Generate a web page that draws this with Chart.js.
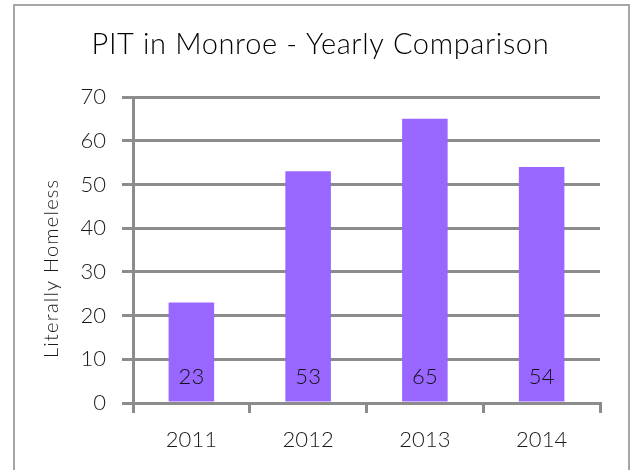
<!DOCTYPE html>
<html>
<head>
<meta charset="utf-8">
<script src="https://cdn.jsdelivr.net/npm/chart.js@4"></script>
<style>
  html, body { margin: 0; padding: 0; background: #fff; }
  #wrap { width: 631px; height: 470px; }
</style>
</head>
<body>
<div id="wrap"><canvas id="myChart" width="631" height="470"></canvas></div>
<script>
const years = ['2011', '2012', '2013', '2014']
const homeless = [23, 53, 65, 54]
const yTicks = [0, 10, 20, 30, 40, 50, 60, 70]

const chartTitle = 'PIT in Monroe - Yearly Comparison'
const yTitle = 'Literally Homeless'

const gridGray = '#8c8c8c'
const fontFamily = 'Lato, "Open Sans", sans-serif'

// draw text spaced out to a given width (excel spacing is wider than Lato)
function spacedText(ctx, text, x, y, width) {
  ctx.letterSpacing = '0px'
  const w = ctx.measureText(text).width
  const sp = (width - w) / (text.length - 1)
  ctx.letterSpacing = sp.toFixed(2) + 'px'
  ctx.textAlign = 'left'
  ctx.fillText(text, x - width / 2, y)
  ctx.letterSpacing = '0px'
}

// outer frame, title, y title, value labels
const extras = {
  id: 'extras',
  beforeDraw(chart) {
    const ctx = chart.ctx
    ctx.save()
    ctx.fillStyle = '#fff'
    ctx.fillRect(0, 0, chart.width, chart.height)
    ctx.strokeStyle = '#a6a6a6'
    ctx.lineWidth = 2
    ctx.strokeRect(14, 5, 615, 480)
    ctx.restore()
  },
  afterDatasetsDraw(chart) {
    const ctx = chart.ctx
    const meta = chart.getDatasetMeta(0)
    ctx.save()
    ctx.fillStyle = '#111'
    ctx.textBaseline = 'middle'

    ctx.font = '300 22px ' + fontFamily
    ctx.textAlign = 'center'
    meta.data.forEach((bar, i) => {
      ctx.fillText(String(homeless[i]), bar.x, bar.base - 25)
    })

    ctx.fillStyle = '#000'
    ctx.font = '300 29px ' + fontFamily
    spacedText(ctx, chartTitle, 320, 45, 457)

    ctx.fillStyle = '#1a1a1a'
    ctx.translate(52, 269)
    ctx.rotate(-Math.PI / 2)
    ctx.font = '300 20px ' + fontFamily
    spacedText(ctx, yTitle, 0, 0, 178)
    ctx.restore()
  }
}

new Chart(document.getElementById('myChart'), {
  type: 'bar',
  data: {
    labels: years,
    datasets: [{
      data: homeless,
      backgroundColor: '#9966ff',
      borderWidth: 0,
      categoryPercentage: 1,
      barPercentage: 0.39
    }]
  },
  options: {
    responsive: false,
    animation: false,
    layout: { padding: { left: 0, right: 31, top: 97, bottom: 0 } },
    plugins: {
      legend: { display: false },
      tooltip: { enabled: false },
      title: { display: false }
    },
    scales: {
      x: {
        grid: { drawOnChartArea: false, color: gridGray, lineWidth: 3, tickLength: 10 },
        border: { color: gridGray, width: 3 },
        ticks: { color: '#1a1a1a', font: { family: fontFamily, size: 22, weight: 300 }, padding: 14 },
        afterFit(scale) { scale.height = 67 }
      },
      y: {
        min: 0,
        max: 70,
        afterBuildTicks(scale) { scale.ticks = yTicks.map(v => ({ value: v })) },
        grid: { color: gridGray, lineWidth: 3, tickLength: 11 },
        border: { color: gridGray, width: 3 },
        ticks: { color: '#1a1a1a', font: { family: fontFamily, size: 22, weight: 300 }, padding: 16 },
        afterFit(scale) { scale.width = 133 }
      }
    }
  },
  plugins: [extras]
})
</script>
</body>
</html>
